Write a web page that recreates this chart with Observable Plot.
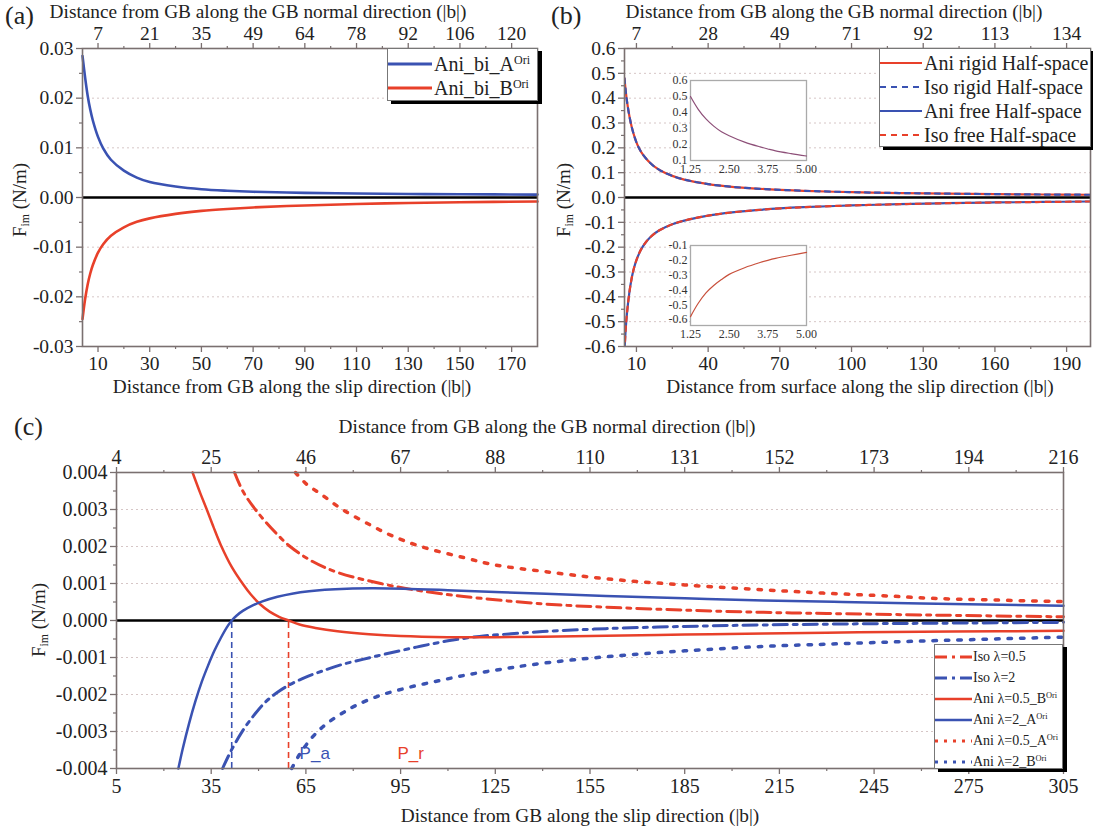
<!DOCTYPE html>
<html><head><meta charset="utf-8">
<script src="https://cdn.jsdelivr.net/npm/d3@7"></script>
<script src="https://cdn.jsdelivr.net/npm/@observablehq/plot@0.6"></script>
<style>
body{margin:0;background:#fff;}
#root{position:relative;width:1093px;height:832px;overflow:hidden;font-family:"Liberation Serif","Times New Roman",serif;color:#222;}
.abs{position:absolute;white-space:nowrap;line-height:1;}
.title{font-size:19.3px;transform:translateX(-50%);}
.plab{font-size:26px;}
.ylab{font-size:19px;transform:translate(-50%,-50%) rotate(-90deg);}
.ylab sub{font-size:0.62em;vertical-align:-0.3em;}
.legend{position:absolute;background:#fff;border:1px solid #777;box-shadow:4px 3px 0 #000;box-sizing:border-box;}
.row{position:absolute;left:0;display:flex;align-items:center;white-space:nowrap;}
.row sup{font-size:0.6em;vertical-align:0.55em;line-height:0;}
.plot{position:absolute;}
</style></head>
<body><div id="root"></div>
<script>
// ---------- DATA ----------
// Panel (a)
const aX = [4, 5, 6, 7, 8, 10, 12, 15, 20, 25, 30, 40, 50, 60, 70, 90, 110, 130, 150, 180];
const aBlueA = [0.0285, 0.0242, 0.0205, 0.0177, 0.0155, 0.0122, 0.0099, 0.0076, 0.0054, 0.0040, 0.0031, 0.0022, 0.00165, 0.00135, 0.00115, 0.00093, 0.0008, 0.0007, 0.00065, 0.00058];
const aRedB = [-0.0245, -0.0205, -0.0175, -0.0153, -0.0136, -0.0111, -0.0094, -0.0077, -0.0060, -0.0049, -0.0042, -0.0033, -0.0027, -0.0023, -0.0020, -0.0016, -0.0013, -0.0011, -0.00095, -0.0008];
const aXTicks = [10, 30, 50, 70, 90, 110, 130, 150, 170];
const aXMinor = [20, 40, 60, 80, 100, 120, 140, 160];
const aTopLabels = ["7", "21", "35", "49", "64", "78", "92", "106", "120"];
const aYTicks = [-0.03, -0.02, -0.01, 0, 0.01, 0.02, 0.03];
const aYMinor = [-0.025, -0.015, -0.005, 0.005, 0.015, 0.025];
const aSeries = ["Ani_bi_A", "Ani_bi_B"];

// Panel (b)
const bX = [5, 5.5, 6, 7, 8, 9, 10, 11, 12, 14, 16, 18, 20, 25, 30, 40, 50, 60, 70, 80, 100, 120, 140, 160, 180, 200];
const bRigid = [0.48, 0.43, 0.39, 0.33, 0.285, 0.25, 0.222, 0.2, 0.183, 0.157, 0.137, 0.121, 0.109, 0.087, 0.072, 0.054, 0.043, 0.036, 0.031, 0.027, 0.0215, 0.018, 0.0155, 0.0135, 0.012, 0.011];
const bFree = [-0.62, -0.53, -0.47, -0.385, -0.325, -0.283, -0.252, -0.228, -0.208, -0.179, -0.158, -0.142, -0.13, -0.108, -0.093, -0.073, -0.06, -0.051, -0.044, -0.039, -0.032, -0.027, -0.023, -0.02, -0.018, -0.016];
const bXTicks = [10, 40, 70, 100, 130, 160, 190];
const bXMinor = [25, 55, 85, 115, 145, 175];
const bTopLabels = ["7", "28", "49", "71", "92", "113", "134"];
const bYTicks = [-0.6, -0.5, -0.4, -0.3, -0.2, -0.1, 0, 0.1, 0.2, 0.3, 0.4, 0.5, 0.6];
const bYMinor = [-0.55, -0.45, -0.35, -0.25, -0.15, -0.05, 0.05, 0.15, 0.25, 0.35, 0.45, 0.55];
const bSeries = ["Ani rigid Half-space", "Iso rigid Half-space", "Ani free Half-space", "Iso free Half-space"];
// Insets of (b)
const inX = [1.25, 1.5, 1.75, 2, 2.25, 2.5, 3, 3.5, 3.75, 4, 4.5, 5];
const inPos = [0.50, 0.42, 0.36, 0.315, 0.28, 0.255, 0.215, 0.185, 0.172, 0.16, 0.143, 0.128];
const inNeg = [-0.58, -0.49, -0.42, -0.37, -0.33, -0.295, -0.25, -0.215, -0.2, -0.187, -0.166, -0.147];
const inXTicks = [1.25, 2.5, 3.75, 5];
const inPosTicks = [0.1, 0.2, 0.3, 0.4, 0.5, 0.6];
const inNegTicks = [-0.6, -0.5, -0.4, -0.3, -0.2, -0.1];

// Panel (c)
const cIso05X = [42.4, 45, 49, 54, 60, 67, 75, 88.7, 100, 115, 140, 160, 185, 210, 230, 260, 305];
const cIso05Y = [0.004, 0.0035, 0.003, 0.0025, 0.002, 0.0016, 0.0013, 0.001, 0.00082, 0.00065, 0.00045, 0.00036, 0.00028, 0.00022, 0.00019, 0.00015, 0.0001];
const cIso2X = [38.6, 41, 44.6, 48, 52, 56, 60, 65, 70, 76, 83, 90, 100, 110, 120, 130, 140, 160, 185, 210, 240, 270, 305];
const cIso2Y = [-0.004, -0.00357, -0.00303, -0.00262, -0.00222, -0.00194, -0.00173, -0.00153, -0.00137, -0.0012, -0.00105, -0.00091, -0.00072, -0.00055, -0.00043, -0.00036, -0.0003, -0.00022, -0.00016, -0.00012, -0.00009, -0.00007, -0.00005];
const cAni05BX = [29.1, 31.5, 33.6, 35.8, 38, 41.5, 45.1, 47.5, 50.5, 53.5, 56.5, 59.5, 63, 68, 75, 85, 95, 110, 125, 140, 160, 185, 210, 240, 270, 305];
const cAni05BY = [0.004, 0.00345, 0.003, 0.00251, 0.00205, 0.00145, 0.00098, 0.00071, 0.00044, 0.00024, 0.0001, 0, -0.00011, -0.0002, -0.00029, -0.00037, -0.00042, -0.00045, -0.00045, -0.00044, -0.00041, -0.00038, -0.00035, -0.00032, -0.0003, -0.00028];
const cAni2AX = [24.6, 26, 28, 30, 32, 34, 36, 38, 40, 41.5, 43, 45, 48, 51, 56, 61, 66, 71, 78, 86, 96, 110, 125, 141, 160, 185, 210, 235, 260, 305];
const cAni2AY = [-0.004, -0.00346, -0.00278, -0.00218, -0.00166, -0.00122, -0.00082, -0.00048, -0.00018, 0, 0.00013, 0.00026, 0.0004, 0.00051, 0.00064, 0.00073, 0.00079, 0.00083, 0.00086, 0.00087, 0.00086, 0.00082, 0.00077, 0.00072, 0.00066, 0.0006, 0.00054, 0.0005, 0.00046, 0.0004];
const cAni05AX = [61.7, 65, 70, 76.6, 85, 92, 101.4, 115, 125, 140, 160, 185, 210, 229, 250, 263, 280, 305];
const cAni05AY = [0.004, 0.0037, 0.0034, 0.003, 0.0026, 0.0023, 0.002, 0.0017, 0.0015, 0.00133, 0.00113, 0.00096, 0.00083, 0.00074, 0.00066, 0.0006, 0.00056, 0.00051];
const cAni2BX = [60.5, 63, 66, 69, 72, 76.6, 81, 88.7, 97.5, 107, 116, 126, 136, 150, 170, 185, 210, 230, 262, 305];
const cAni2BY = [-0.004, -0.00362, -0.00326, -0.00298, -0.00276, -0.0025, -0.00229, -0.00202, -0.00181, -0.00163, -0.00147, -0.00133, -0.0012, -0.00106, -0.00091, -0.00082, -0.0007, -0.00064, -0.00055, -0.00045];
const cMarkerNames = ["P_a", "P_r"];
const cMarkerX = [41.5, 59.5];
const cLabelX = [63, 94];
const cLabelY = [-0.0036, -0.0036];
const cXTicks = [5, 35, 65, 95, 125, 155, 185, 215, 245, 275, 305];
const cXMinor = [20, 50, 80, 110, 140, 170, 200, 230, 260, 290];
const cTopLabels = ["4", "25", "46", "67", "88", "110", "131", "152", "173", "194", "216"];
const cYTicks = [-0.004, -0.003, -0.002, -0.001, 0, 0.001, 0.002, 0.003, 0.004];
const cYMinor = [-0.0035, -0.0025, -0.0015, -0.0005, 0.0005, 0.0015, 0.0025, 0.0035];
const cSeries = ["Iso λ=0.5", "Iso λ=2", "Ani λ=0.5_B", "Ani λ=2_A", "Ani λ=0.5_A", "Ani λ=2_B"];

// ---------- STYLE ----------
const BLUE = "#3a52b2", RED = "#e8402a", FRAME = "#7a7070", GRID = "#d6c6c6";
const FONT = "Liberation Serif";
const CURVE = "catmull-rom";
const root = document.getElementById("root");
const toRows = (xs, ys) => xs.map((x, i) => ({x, y: ys[i]}));
const fmt = (dec) => (d) => { const s = Math.abs(d).toFixed(dec); return (d < -1e-12 ? "-" : "") + s; };

function axes(o) {
  const topMap = new Map(o.xTicks.map((t, i) => [t, o.topLabels[i]]));
  return [
    Plot.frame({stroke: FRAME, strokeWidth: 1.6}),
    Plot.axisX(o.xTicks, {anchor: "bottom", tickSize: 6, tickPadding: 4, stroke: FRAME, strokeWidth: 1.3, fill: "#222", fontSize: o.fs, label: null, tickFormat: d => String(d)}),
    Plot.axisX(o.xMinor, {anchor: "bottom", tickSize: 3, stroke: FRAME, strokeWidth: 1.2, label: null, tickFormat: () => ""}),
    Plot.axisX(o.xTicks, {anchor: "top", tickSize: 6, tickPadding: 3, stroke: FRAME, strokeWidth: 1.3, fill: "#222", fontSize: o.fs, label: null, tickFormat: d => topMap.get(d)}),
    Plot.axisX(o.xMinor, {anchor: "top", tickSize: 3, stroke: FRAME, strokeWidth: 1.2, label: null, tickFormat: () => ""}),
    Plot.axisY(o.yTicks, {anchor: "left", tickSize: 6, tickPadding: 3, stroke: FRAME, strokeWidth: 1.3, fill: "#222", fontSize: o.fs, label: null, tickFormat: fmt(o.dec)}),
    Plot.axisY(o.yMinor, {anchor: "left", tickSize: 3, stroke: FRAME, strokeWidth: 1.2, label: null, tickFormat: () => ""})
  ];
}
function place(el, left, top) { el.classList.add("plot"); el.style.left = left + "px"; el.style.top = top + "px"; root.appendChild(el); }
function text(html, cls, left, top, extra) {
  const d = document.createElement("div"); d.className = "abs " + cls; d.innerHTML = html;
  d.style.left = left + "px"; d.style.top = top + "px"; if (extra) Object.assign(d.style, extra); root.appendChild(d); return d;
}
function legend(box, rows) {
  const L = document.createElement("div"); L.className = "legend";
  Object.assign(L.style, {left: box.left + "px", top: box.top + "px", width: box.width + "px", height: box.height + "px"});
  rows.forEach((r, i) => {
    const row = document.createElement("div"); row.className = "row";
    row.style.top = (box.rowTop + i * box.rowH) + "px"; row.style.height = box.rowH + "px";
    const svgNS = "http://www.w3.org/2000/svg";
    const s = document.createElementNS(svgNS, "svg"); s.setAttribute("width", box.lineW); s.setAttribute("height", 10);
    const ln = document.createElementNS(svgNS, "line");
    ln.setAttribute("x1", 0); ln.setAttribute("x2", box.lineW); ln.setAttribute("y1", 5); ln.setAttribute("y2", 5);
    ln.setAttribute("stroke", r.color); ln.setAttribute("stroke-width", r.w || 2.5);
    if (r.dash) ln.setAttribute("stroke-dasharray", r.dash);
    s.appendChild(ln); row.appendChild(s);
    const t = document.createElement("span"); t.innerHTML = r.label; t.style.fontSize = box.fs + "px"; t.style.marginLeft = box.gap + "px";
    row.appendChild(t); L.appendChild(row);
  });
  root.appendChild(L);
}

// ---------- PANEL (a) ----------
const pa = Plot.plot({
  width: 545, height: 400, marginLeft: 82, marginRight: 8, marginTop: 48, marginBottom: 54,
  style: {fontFamily: FONT, background: "transparent", color: "#222"},
  x: {domain: [4, 180]}, y: {domain: [-0.03, 0.03]},
  marks: [
    Plot.ruleY(aYTicks.filter(d => d !== 0), {stroke: GRID, strokeDasharray: "2,3", strokeWidth: 1}),
    Plot.ruleY([0], {stroke: "#000", strokeWidth: 2.6}),
    Plot.line(toRows(aX, aBlueA), {x: "x", y: "y", stroke: BLUE, strokeWidth: 2.6, curve: CURVE}),
    Plot.line(toRows(aX, aRedB), {x: "x", y: "y", stroke: RED, strokeWidth: 2.6, curve: CURVE}),
    ...axes({xTicks: aXTicks, xMinor: aXMinor, topLabels: aTopLabels, yTicks: aYTicks, yMinor: aYMinor, dec: 2, fs: 19.5})
  ]
});
place(pa, 0, 0);

// ---------- PANEL (b) ----------
const pb = Plot.plot({
  width: 548, height: 400, marginLeft: 79, marginRight: 3, marginTop: 48, marginBottom: 54,
  style: {fontFamily: FONT, background: "transparent", color: "#222"},
  x: {domain: [5, 200]}, y: {domain: [-0.6, 0.6]},
  marks: [
    Plot.ruleY(bYTicks.filter(d => d !== 0), {stroke: GRID, strokeDasharray: "2,3", strokeWidth: 1}),
    Plot.ruleY([0], {stroke: "#000", strokeWidth: 2.6}),
    Plot.line(toRows(bX, bRigid), {x: "x", y: "y", stroke: RED, strokeWidth: 2.2, curve: CURVE, clip: true}),
    Plot.line(toRows(bX, bRigid), {x: "x", y: "y", stroke: BLUE, strokeWidth: 2.2, strokeDasharray: "5,5", curve: CURVE, clip: true}),
    Plot.line(toRows(bX, bFree), {x: "x", y: "y", stroke: BLUE, strokeWidth: 2.2, curve: CURVE, clip: true}),
    Plot.line(toRows(bX, bFree), {x: "x", y: "y", stroke: RED, strokeWidth: 2.2, strokeDasharray: "5,5", curve: CURVE, clip: true}),
    ...axes({xTicks: bXTicks, xMinor: bXMinor, topLabels: bTopLabels, yTicks: bYTicks, yMinor: bYMinor, dec: 1, fs: 19.5})
  ]
});
place(pb, 545, 0);

function inset(ys, ticks, yDomain, color) {
  return Plot.plot({
    width: 165, height: 118, marginLeft: 25, marginRight: 24, marginTop: 8, marginBottom: 30,
    style: {fontFamily: FONT, background: "transparent", color: "#333"},
    x: {domain: [1.25, 5]}, y: {domain: yDomain},
    marks: [
      Plot.frame({fill: "#fff", stroke: "#aaa", strokeWidth: 1.3}),
      Plot.line(toRows(inX, ys), {x: "x", y: "y", stroke: color, strokeWidth: 1.2, curve: CURVE}),
      Plot.axisX(inXTicks, {anchor: "bottom", tickSize: 0, tickPadding: 4, fontSize: 12, label: null, tickFormat: d => d.toFixed(2)}),
      Plot.axisY(ticks, {anchor: "left", tickSize: 0, tickPadding: 3, fontSize: 12, label: null, tickFormat: fmt(1)})
    ]
  });
}
place(inset(inPos, inPosTicks, [0.1, 0.6], "#8d4f78"), 665, 72);
place(inset(inNeg, inNegTicks, [-0.64, -0.1], "#c8503c"), 665, 237);

// ---------- PANEL (c) ----------
const pc = Plot.plot({
  width: 1093, height: 432, marginLeft: 116, marginRight: 30, marginTop: 72, marginBottom: 64,
  style: {fontFamily: FONT, background: "transparent", color: "#222"},
  x: {domain: [5, 305]}, y: {domain: [-0.004, 0.004]},
  marks: [
    Plot.ruleY(cYTicks.filter(d => d !== 0), {stroke: GRID, strokeDasharray: "2,3", strokeWidth: 1}),
    Plot.ruleY([0], {stroke: "#000", strokeWidth: 2.6}),
    Plot.ruleX(cMarkerX, {y1: -0.004, y2: 0, stroke: (d, i) => i === 0 ? BLUE : RED, strokeWidth: 1.6, strokeDasharray: "6,4"}),
    Plot.line(toRows(cIso05X, cIso05Y), {x: "x", y: "y", stroke: RED, strokeWidth: 3, strokeDasharray: "14,6,4,6", curve: CURVE}),
    Plot.line(toRows(cIso2X, cIso2Y), {x: "x", y: "y", stroke: BLUE, strokeWidth: 3, strokeDasharray: "14,6,4,6", curve: CURVE}),
    Plot.line(toRows(cAni05BX, cAni05BY), {x: "x", y: "y", stroke: RED, strokeWidth: 2.5, curve: CURVE}),
    Plot.line(toRows(cAni2AX, cAni2AY), {x: "x", y: "y", stroke: BLUE, strokeWidth: 2.5, curve: CURVE}),
    Plot.line(toRows(cAni05AX, cAni05AY), {x: "x", y: "y", stroke: RED, strokeWidth: 3.5, strokeDasharray: "3.5,9", curve: CURVE}),
    Plot.line(toRows(cAni2BX, cAni2BY), {x: "x", y: "y", stroke: BLUE, strokeWidth: 3.5, strokeDasharray: "3.5,9", curve: CURVE}),
    Plot.text(cMarkerNames, {x: (d, i) => cLabelX[i], y: (d, i) => cLabelY[i], text: d => d, fill: (d, i) => i === 0 ? BLUE : RED, textAnchor: "start", fontFamily: "Liberation Sans", fontSize: 17}),
    ...axes({xTicks: cXTicks, xMinor: cXMinor, topLabels: cTopLabels, yTicks: cYTicks, yMinor: cYMinor, dec: 3, fs: 20})
  ]
});
place(pc, 0, 400);

// ---------- TEXTS ----------
const topTitle = "Distance from GB along the GB normal direction (|b|)";
text("(a)", "plab", 5, 3);
text(topTitle, "title", 258, 2);
text("Distance from GB along the slip direction (|b|)", "title", 292, 377);
text("F<sub>im</sub> (N/m)", "ylab", 21, 200);
text("(b)", "plab", 551, 3);
text(topTitle, "title", 834, 2);
text("Distance from surface along the slip direction (|b|)", "title", 860, 377);
text("F<sub>im</sub> (N/m)", "ylab", 565, 200);
text("(c)", "plab", 14, 414);
text(topTitle, "title", 547, 417);
text("Distance from GB along the slip direction (|b|)", "title", 580, 806);
text("F<sub>im</sub> (N/m)", "ylab", 40, 620);

// ---------- LEGENDS ----------
const ori = "<sup>Ori</sup>";
legend({left: 387, top: 48, width: 151, height: 53, rowTop: 3, rowH: 24, lineW: 44, gap: 2, fs: 20},
  [{label: "Ani_bi_A" + ori, color: BLUE, w: 3}, {label: "Ani_bi_B" + ori, color: RED, w: 3}]);
legend({left: 879, top: 48, width: 212, height: 99, rowTop: 2, rowH: 24, lineW: 42, gap: 2, fs: 20},
  [{label: bSeries[0], color: RED, w: 2}, {label: bSeries[1], color: BLUE, w: 2, dash: "6,5"},
   {label: bSeries[2], color: BLUE, w: 2}, {label: bSeries[3], color: RED, w: 2, dash: "6,5"}]);
legend({left: 934, top: 644, width: 129, height: 125, rowTop: 1, rowH: 21, lineW: 37, gap: 1, fs: 14},
  [{label: cSeries[0], color: RED, w: 3, dash: "12,5,3,5"}, {label: cSeries[1], color: BLUE, w: 3, dash: "12,5,3,5"},
   {label: cSeries[2] + ori, color: RED, w: 2.5}, {label: cSeries[3] + ori, color: BLUE, w: 2.5},
   {label: cSeries[4] + ori, color: RED, w: 3, dash: "3,6"}, {label: cSeries[5] + ori, color: BLUE, w: 3, dash: "3,6"}]);
</script></body></html>
